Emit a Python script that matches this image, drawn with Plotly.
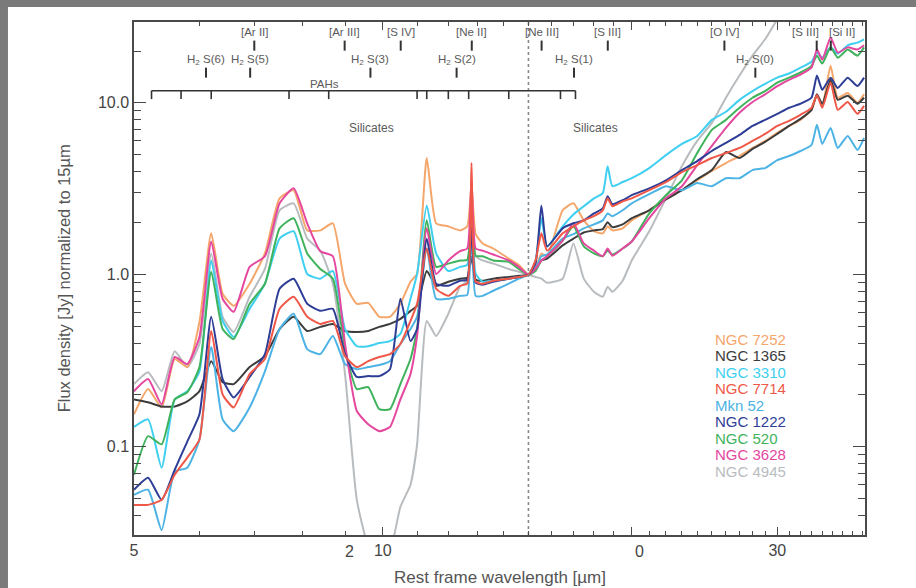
import numpy as np
import plotly.graph_objects as go

# Rest-frame wavelength grid (micron) shared by all spectra
wavelength = [5.0, 5.2, 5.4, 5.6, 5.8, 6.0, 6.2, 6.4, 6.6, 6.9,
              7.2, 7.5, 7.8, 8.1, 8.4, 8.7, 9.0, 9.3, 9.6, 9.9,
              10.2, 10.5, 10.8, 11.0, 11.3, 11.6, 12.0, 12.4, 12.65, 12.8,
              12.95, 13.2, 13.6, 14.2, 14.6, 15.0, 15.3, 15.55, 15.8, 16.5,
              17.0, 17.5, 18.0, 18.45, 18.7, 18.95, 19.5, 20, 21, 22,
              23, 24, 25, 26, 27, 28, 29, 30, 31, 32,
              33, 33.5, 34, 34.8, 35.5, 36.5, 37.5, 38.2]

# Flux density normalised to 1 at 15 micron
ngc7252 = [0.154, 0.216, 0.169, 0.323, 0.290, 0.531, 1.74, 0.774, 0.659, 0.886,
           1.33, 2.78, 3.10, 1.81, 1.81, 1.99, 0.886, 0.677, 0.686, 0.569,
           0.569, 0.677, 0.910, 1.01, 4.77, 1.99, 1.91, 1.81, 1.91, 3.32,
           1.72, 1.52, 1.42, 1.24, 1.14, 1.0, 1.08, 1.33, 1.28, 2.37,
           2.60, 2.07, 1.79, 1.74, 1.91, 1.81, 1.86, 2.07, 2.37, 2.78,
           3.10, 3.54, 4.01, 4.46, 4.90, 5.46, 6.00, 6.68, 7.33, 7.95,
           9.10, 11.1, 9.60, 16.4, 10.7, 11.4, 10.0, 11.2]
ngc1365 = [0.188, 0.181, 0.171, 0.171, 0.183, 0.210, 0.314, 0.237, 0.231, 0.290,
           0.336, 0.483, 0.569, 0.470, 0.497, 0.517, 0.470, 0.464, 0.470, 0.497,
           0.517, 0.553, 0.616, 0.659, 1.05, 0.862, 0.910, 0.948, 0.961, 1.27,
           0.935, 0.922, 0.948, 0.97, 0.985, 1.0, 1.08, 1.21, 1.24, 1.48,
           1.62, 1.76, 1.81, 1.84, 2.02, 1.89, 1.96, 2.13, 2.37, 2.74,
           3.10, 3.59, 4.06, 5.17, 4.77, 5.39, 5.92, 6.59, 7.33, 8.06,
           9.10, 11.2, 9.87, 13.6, 10.4, 11.0, 9.87, 10.7]
ngc3310 = [0.130, 0.144, 0.0754, 0.188, 0.210, 0.274, 1.21, 0.538, 0.434, 0.633,
           0.886, 1.62, 1.79, 1.01, 0.948, 1.05, 0.483, 0.384, 0.384, 0.400,
           0.411, 0.452, 0.724, 1.01, 2.53, 1.33, 1.05, 1.11, 1.14, 2.33,
           1.01, 0.910, 0.922, 0.948, 0.97, 1.0, 1.21, 2.13, 1.46, 1.91,
           2.24, 2.50, 2.78, 2.98, 4.28, 3.27, 3.46, 3.64, 4.17, 4.96,
           5.76, 6.41, 7.95, 8.86, 10.4, 11.7, 12.9, 14.0, 14.8, 16.0,
           17.3, 19.6, 18.3, 21.0, 19.3, 21.6, 22.4, 23.4]
ngc7714 = [0.0458, 0.0458, 0.0490, 0.0686, 0.0863, 0.110, 0.470, 0.201, 0.169, 0.264,
           0.323, 0.633, 0.744, 0.569, 0.517, 0.538, 0.336, 0.290, 0.314, 0.332,
           0.345, 0.395, 0.538, 0.677, 1.42, 0.828, 0.753, 0.862, 0.886, 4.46,
           0.910, 0.886, 0.922, 0.948, 0.97, 1.0, 1.21, 1.74, 1.38, 1.74,
           1.91, 2.07, 2.19, 2.37, 2.78, 2.50, 2.67, 2.78, 3.10, 3.46,
           3.95, 4.34, 4.77, 5.10, 5.46, 6.00, 6.59, 7.33, 7.85, 8.51,
           9.35, 11.1, 9.35, 13.1, 9.10, 10.1, 8.62, 9.60]
mkn52 = [0.0524, 0.0561, 0.0327, 0.0713, 0.0754, 0.110, 0.379, 0.144, 0.123, 0.169,
         0.274, 0.483, 0.592, 0.369, 0.345, 0.440, 0.302, 0.282, 0.290, 0.298,
         0.314, 0.395, 0.483, 0.569, 1.42, 0.724, 0.724, 0.753, 0.763, 1.81,
         0.753, 0.753, 0.806, 0.886, 0.948, 1.0, 1.08, 1.28, 1.31, 1.62,
         1.72, 1.86, 1.96, 2.07, 2.27, 2.19, 2.37, 2.60, 2.94, 3.27,
         3.10, 3.41, 3.27, 3.64, 3.64, 4.06, 4.17, 4.64, 4.90, 5.24,
         5.68, 7.44, 5.76, 7.14, 5.46, 6.41, 5.31, 6.24]
ngc1222 = [0.0561, 0.0659, 0.0490, 0.0733, 0.107, 0.154, 0.569, 0.247, 0.193, 0.254,
           0.345, 0.828, 0.948, 0.677, 0.616, 0.633, 0.345, 0.254, 0.257, 0.257,
           0.282, 0.724, 0.411, 0.483, 1.62, 0.886, 0.862, 0.922, 0.935, 1.86,
           0.898, 0.874, 0.910, 0.948, 0.97, 1.0, 1.16, 2.53, 1.46, 1.86,
           1.99, 2.07, 2.27, 2.43, 2.86, 2.57, 2.71, 2.90, 3.18, 3.54,
           4.06, 4.58, 5.24, 5.84, 6.50, 7.33, 7.95, 8.62, 9.35, 9.87,
           10.7, 14.4, 11.9, 14.0, 12.2, 14.0, 12.5, 14.0]
ngc520 = [0.0686, 0.115, 0.103, 0.188, 0.207, 0.290, 1.04, 0.483, 0.422, 0.677,
          0.886, 1.86, 2.13, 1.33, 1.08, 0.948, 0.369, 0.216, 0.222, 0.165,
          0.165, 0.231, 0.323, 0.483, 2.07, 1.11, 1.16, 1.21, 1.22, 2.21,
          1.29, 1.28, 1.21, 1.19, 1.08, 1.0, 1.05, 1.21, 1.28, 1.58,
          1.91, 1.46, 1.33, 1.28, 1.38, 1.31, 1.42, 1.56, 2.27, 2.90,
          3.54, 5.10, 6.95, 7.95, 9.35, 10.7, 11.7, 13.1, 14.0, 15.0,
          16.4, 18.8, 16.9, 21.0, 18.3, 20.4, 18.8, 21.0]
ngc3628 = [0.210, 0.247, 0.176, 0.332, 0.302, 0.434, 1.56, 0.724, 0.608, 1.11,
           1.28, 2.60, 3.18, 1.99, 1.37, 1.28, 0.395, 0.161, 0.135, 0.123,
           0.130, 0.188, 0.264, 0.440, 1.86, 1.01, 1.21, 1.37, 1.42, 3.64,
           1.42, 1.38, 1.31, 1.21, 1.11, 1.0, 1.08, 1.21, 1.28, 1.58,
           1.99, 1.52, 1.38, 1.28, 1.42, 1.29, 1.42, 1.56, 2.13, 2.78,
           3.27, 4.34, 5.61, 7.14, 8.74, 10.1, 11.2, 12.5, 13.6, 14.6,
           16.0, 20.4, 17.8, 24.0, 19.6, 21.0, 20.4, 21.6]
# NGC 4945 leaves the top of the frame near 30 micron
ngc4945 = [0.231, 0.271, 0.210, 0.359, 0.290, 0.395, 1.33, 0.569, 0.464, 0.744,
           1.08, 2.37, 2.60, 1.62, 1.38, 0.886, 0.264, 0.0490, 0.0267, 0.0233,
           0.0250, 0.0446, 0.0600, 0.103, 0.538, 0.440, 0.592, 0.851, 0.922, 3.18,
           1.28, 1.21, 1.16, 1.08, 1.04, 1.0, 0.97, 0.948, 0.898, 0.948,
           1.52, 0.948, 0.795, 0.744, 0.851, 0.795, 0.922, 1.21, 1.79, 2.78,
           4.28, 6.00, 7.64, 10.7, 14.4, 18.8, 23.4, 30.6, 38.4]

galaxy_names = ["NGC 7252", "NGC 1365", "NGC 3310", "NGC 7714", "Mkn 52",
                "NGC 1222", "NGC 520", "NGC 3628", "NGC 4945"]
galaxy_colors = ["#f5a66b", "#3c3c3c", "#3fcff0", "#ef5848", "#4cb3e4",
                 "#2e3e96", "#3fb35c", "#e5479f", "#b8bcbf"]

# Fine-structure / H2 line identifications
ion_labels = ["[Ar II]", "[Ar III]", "[S IV]", "[Ne II]", "[Ne III]", "[S III]",
              "[O IV]", "[S III]", "[Si II]"]
ion_waves = [6.99, 8.99, 10.51, 12.81, 15.56, 18.71, 25.89, 33.48, 34.82]
h2_labels = ["H<sub>2</sub> S(6)", "H<sub>2</sub> S(5)", "H<sub>2</sub> S(3)",
             "H<sub>2</sub> S(2)", "H<sub>2</sub> S(1)", "H<sub>2</sub> S(0)"]
h2_waves = [6.11, 6.91, 9.66, 12.28, 17.03, 28.22]
pah_waves = [5.25, 5.7, 6.2, 7.7, 8.6, 11.0, 11.3, 12.0, 12.7, 14.2, 16.4, 17.1]

series = [ngc7252, ngc1365, ngc3310, ngc7714, mkn52, ngc1222, ngc520, ngc3628, ngc4945]

AXIS = "#4a4a4a"
LABEL = "#5a5a5a"
FONT = "Liberation Sans, Arial, sans-serif"
Y_LO, Y_HI = 0.0306, 29.5

fig = go.Figure()

# grey galaxy drawn first so the others sit on top
draw_order = [8, 0, 1, 2, 4, 6, 7, 5, 3]
for i in draw_order:
    vals = series[i]
    fig.add_trace(go.Scatter(
        x=wavelength[:len(vals)], y=vals, mode="lines",
        line=dict(color=galaxy_colors[i], width=2, shape="spline", smoothing=0.5),
        name=galaxy_names[i], showlegend=False, hoverinfo="skip"))

# 15 micron normalisation marker
fig.add_trace(go.Scatter(x=[15, 15], y=[Y_LO, Y_HI], mode="lines",
                         line=dict(color="#8a8a8a", width=1.6, dash="dot"),
                         showlegend=False, hoverinfo="skip"))

# short identification ticks
def tick_segments(waves, y0, y1):
    xs, ys = [], []
    for w in waves:
        xs += [w, w, None]
        ys += [y0, y1, None]
    return xs, ys

for waves, y0, y1 in [(ion_waves, 20.1, 23.0), (h2_waves, 14.0, 16.0)]:
    xs, ys = tick_segments(waves, y0, y1)
    fig.add_trace(go.Scatter(x=xs, y=ys, mode="lines",
                             line=dict(color="#333333", width=2),
                             showlegend=False, hoverinfo="skip"))

# PAH bracket
xs, ys = tick_segments(pah_waves, 10.5, 11.75)
xs += [pah_waves[0], pah_waves[-1]]
ys += [11.75, 11.75]
fig.add_trace(go.Scatter(x=xs, y=ys, mode="lines",
                         line=dict(color="#333333", width=1.6),
                         showlegend=False, hoverinfo="skip"))

annotations = []
for k, (lab, w) in enumerate(zip(ion_labels, ion_waves)):
    anchor, shift = "center", 0
    if k == 7:
        anchor, shift = "right", 4
    elif k == 8:
        anchor, shift = "left", -4
    annotations.append(dict(x=np.log10(w), y=np.log10(25.7), xref="x", yref="y",
                            text=lab, showarrow=False, xanchor=anchor, xshift=shift,
                            yanchor="middle", font=dict(size=11.5, color=LABEL, family=FONT)))
for lab, w in zip(h2_labels, h2_waves):
    annotations.append(dict(x=np.log10(w), y=np.log10(17.8), xref="x", yref="y",
                            text=lab, showarrow=False, yanchor="middle",
                            font=dict(size=11.5, color=LABEL, family=FONT)))
annotations.append(dict(x=np.log10(8.5), y=np.log10(12.9), xref="x", yref="y",
                        text="PAHs", showarrow=False, yanchor="middle",
                        font=dict(size=11.5, color=LABEL, family=FONT)))
for w in (9.7, 18.1):
    annotations.append(dict(x=np.log10(w), y=np.log10(7.14), xref="x", yref="y",
                            text="Silicates", showarrow=False, yanchor="middle",
                            font=dict(size=12, color=LABEL, family=FONT)))

# colour-coded galaxy key
for k, (nm, col) in enumerate(zip(galaxy_names, galaxy_colors)):
    annotations.append(dict(x=0.792, y=0.382 - k * 0.0322, xref="paper", yref="paper",
                            text=nm, showarrow=False, xanchor="left", yanchor="middle",
                            font=dict(size=15, color=col, family=FONT)))

# x tick labels that sit off their ticks
annotations.append(dict(x=np.log10(9.12), y=-0.012, xref="x", yref="paper",
                        text="2", showarrow=False, yanchor="top",
                        font=dict(size=16, color="#444444", family=FONT)))
annotations.append(dict(x=np.log10(20.46), y=-0.012, xref="x", yref="paper",
                        text="0", showarrow=False, yanchor="top",
                        font=dict(size=16, color="#444444", family=FONT)))

# axis titles
annotations.append(dict(x=0.5, y=-0.082, xref="paper", yref="paper",
                        text="Rest frame wavelength [µm]", showarrow=False,
                        yanchor="middle", font=dict(size=17, color="#555555", family=FONT)))
annotations.append(dict(x=-0.096, y=0.5, xref="paper", yref="paper",
                        text="Flux density [Jy] normalized to 15µm", showarrow=False,
                        textangle=-90, xanchor="center", yanchor="middle",
                        font=dict(size=16.5, color="#555555", family=FONT)))

x_minor = [6, 7, 8, 9] + list(range(11, 20)) + list(range(21, 30)) + list(range(31, 39))
y_minor = ([v / 100 for v in range(4, 10)] + [v / 10 for v in range(2, 10)]
           + list(range(2, 10)) + [20])

fig.update_layout(
    width=916, height=588,
    margin=dict(l=134, r=51, t=22, b=53),
    paper_bgcolor="#7a7a7a", plot_bgcolor="white",
    annotations=annotations,
    shapes=[dict(type="rect", xref="paper", yref="paper", x0=-0.1724, x1=1.2,
                 y0=-0.2, y1=1.0292, fillcolor="white", line=dict(width=0),
                 layer="below")],
    font=dict(family=FONT),
    xaxis=dict(type="log", range=[np.log10(5), np.log10(38.3)],
               tickmode="array", tickvals=[5, 10, 20, 30], ticktext=["5", "10", "", "30"],
               ticks="inside", ticklen=8, tickwidth=1.4, tickcolor=AXIS,
               tickfont=dict(size=16, color="#444444", family=FONT),
               showline=True, linecolor=AXIS, linewidth=1.5, mirror="ticks",
               showgrid=False, zeroline=False,
               minor=dict(tickmode="array", tickvals=x_minor, ticks="inside",
                          ticklen=4, tickwidth=1.2, tickcolor=AXIS, showgrid=False)),
    yaxis=dict(type="log", range=[np.log10(Y_LO), np.log10(Y_HI)],
               tickmode="array", tickvals=[0.1, 1, 10], ticktext=["0.1", "1.0", "10.0"],
               ticks="inside", ticklen=12, tickwidth=1.4, tickcolor=AXIS,
               tickfont=dict(size=16, color="#444444", family=FONT),
               showline=True, linecolor=AXIS, linewidth=1.5, mirror="ticks",
               showgrid=False, zeroline=False,
               minor=dict(tickmode="array", tickvals=y_minor, ticks="inside",
                          ticklen=7, tickwidth=1.2, tickcolor=AXIS, showgrid=False)),
)

fig.write_html("out.html")
